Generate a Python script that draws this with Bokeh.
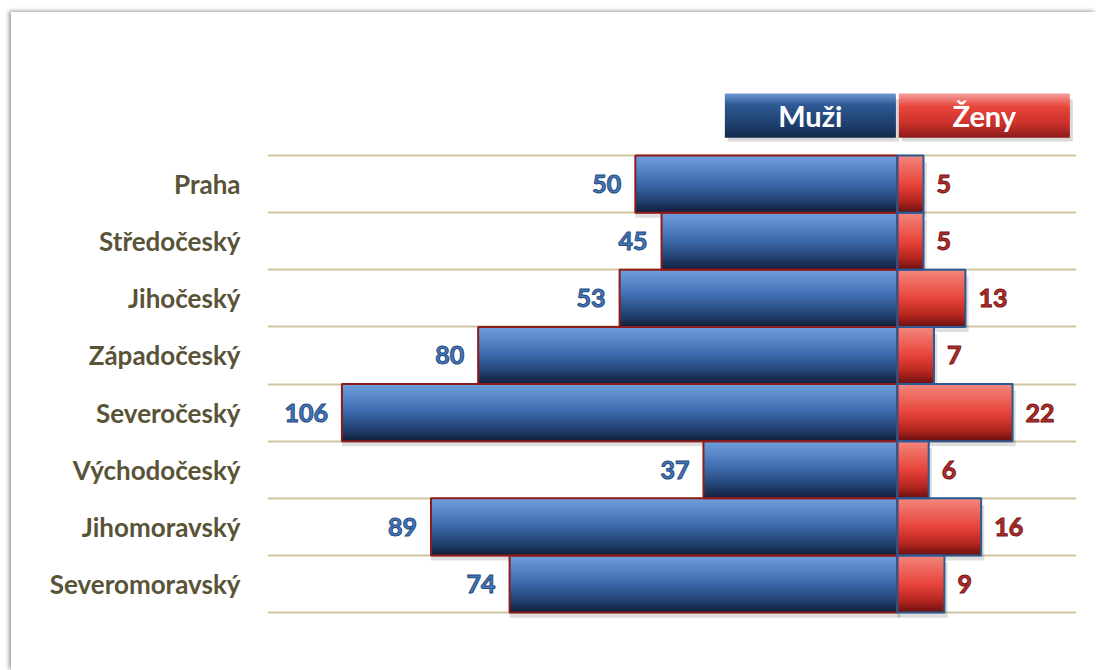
from bokeh.plotting import figure
from bokeh.models import Range1d, FixedTicker, ColumnDataSource
from bokeh.core.properties import value
from bokeh.embed import file_html
from bokeh.resources import INLINE

# ---------------- data ----------------
regions = ["Praha", "Středočeský", "Jihočeský", "Západočeský",
           "Severočeský", "Východočeský", "Jihomoravský", "Severomoravský"]
muzi = [50, 45, 53, 80, 106, 37, 89, 74]
zeny = [5, 5, 13, 7, 22, 6, 16, 9]
series_names = ["Muži", "Ženy"]

# ---------------- style ----------------
FONT = "Lato"
BLUE_GRAD = [(0.0, "#6f9fdc"), (0.45, "#3f6fb2"), (0.8, "#213f6f"), (1.0, "#101f3a")]
RED_GRAD = [(0.0, "#f3877e"), (0.5, "#e8443a"), (0.8, "#b4261f"), (1.0, "#6a1010")]
HEAD_BLUE = [(0.0, "#6f9ad6"), (0.25, "#2f5a94"), (0.7, "#1f3f6e"), (1.0, "#142a4c")]
HEAD_RED = [(0.0, "#f4a0a0"), (0.3, "#e8453a"), (0.7, "#c8302a"), (1.0, "#8a1a1a")]
N_STRIPS = 24


def hex2rgb(h):
    h = h.lstrip("#")
    return tuple(int(h[i:i + 2], 16) for i in (0, 2, 4))


def grad(stops, t):
    for (p0, c0), (p1, c1) in zip(stops[:-1], stops[1:]):
        if p0 <= t <= p1:
            f = (t - p0) / (p1 - p0) if p1 > p0 else 0
            a, b = hex2rgb(c0), hex2rgb(c1)
            return "#%02x%02x%02x" % tuple(int(round(a[j] + (b[j] - a[j]) * f)) for j in range(3))
    return stops[-1][1]


def strips(lefts, rights, tops, bottoms, stops):
    d = dict(left=[], right=[], top=[], bottom=[], color=[])
    for l, r, t, b in zip(lefts, rights, tops, bottoms):
        h = (b - t) / N_STRIPS
        for k in range(N_STRIPS):
            d["left"].append(l)
            d["right"].append(r)
            d["top"].append(t + k * h)
            d["bottom"].append(min(b, t + (k + 2) * h))
            d["color"].append(grad(stops, (k + 0.5) / N_STRIPS))
    return ColumnDataSource(d)


rows = list(range(len(regions)))
row_top = [i - 0.5 for i in rows]
row_bot = [i + 0.5 for i in rows]
men_left = [-v for v in muzi]
zeros = [0] * len(rows)

p = figure(width=1085, height=658, output_backend="svg", toolbar_location=None,
           x_range=Range1d(-120.2, 34.2), y_range=Range1d(7.99, -1.813),
           min_border_left=256, min_border_right=20, min_border_top=68, min_border_bottom=30)
p.margin = (12, 0, 0, 11)
p.styles = {"box-shadow": "-2px -1px 4px rgba(0,0,0,0.4)"}
p.outline_line_color = None
p.background_fill_color = "white"
p.border_fill_color = "white"

# grid lines between rows
p.xgrid.visible = False
p.ygrid.ticker = FixedTicker(ticks=[i - 0.5 for i in range(len(regions) + 1)])
p.ygrid.grid_line_color = "#cdc6a0"
p.ygrid.grid_line_width = 2

# axes
p.xaxis.visible = False
p.yaxis.ticker = FixedTicker(ticks=rows)
p.yaxis.major_label_overrides = {i: r for i, r in zip(rows, regions)}
p.yaxis.axis_line_color = None
p.yaxis.major_tick_line_color = None
p.yaxis.minor_tick_line_color = None
p.yaxis.major_label_standoff = 21
p.yaxis.major_label_text_font = FONT
p.yaxis.major_label_text_font_style = "bold"
p.yaxis.major_label_text_font_size = "26px"
p.yaxis.major_label_text_color = "#595337"

# shadows
p.quad(left=men_left, right=[z + 0.6 for z in zeros], top=[t + 0.12 for t in row_top],
       bottom=[b + 0.09 for b in row_bot], fill_color="black", fill_alpha=0.13, line_color=None)
p.quad(left=zeros, right=[v + 0.6 for v in zeny], top=[t + 0.12 for t in row_top],
       bottom=[b + 0.09 for b in row_bot], fill_color="black", fill_alpha=0.13, line_color=None)

# bars with gradients
p.quad(source=strips(men_left, zeros, row_top, row_bot, BLUE_GRAD),
       left="left", right="right", top="top", bottom="bottom", fill_color="color", line_color=None)
p.quad(source=strips(zeros, zeny, row_top, row_bot, RED_GRAD),
       left="left", right="right", top="top", bottom="bottom", fill_color="color", line_color=None)
p.quad(left=men_left, right=zeros, top=row_top, bottom=row_bot,
       fill_color=None, line_color="#8e1b1b", line_width=2)
p.quad(left=zeros, right=zeny, top=row_top, bottom=row_bot,
       fill_color=None, line_color="#2c5a94", line_width=2)

# value labels
p.text(x=men_left, y=rows, text=[str(v) for v in muzi], x_offset=-14,
       text_align="right", text_baseline="middle", text_font=value(FONT),
       text_font_style="bold", text_font_size="25px", text_color="#4a78b6",
       text_outline_color="#1e4a82")
p.text(x=zeny, y=rows, text=[str(v) for v in zeny], x_offset=13,
       text_align="left", text_baseline="middle", text_font=value(FONT),
       text_font_style="bold", text_font_size="25px", text_color="#b0302c",
       text_outline_color="#7a1515")

# header boxes (legend)
HEAD_W = 32.6
HEAD_GAP = 0.3
HEAD_TOP, HEAD_BOT = -1.585, -0.815
hx_left = [-HEAD_W - HEAD_GAP, HEAD_GAP]
hx_right = [-HEAD_GAP, HEAD_W + HEAD_GAP]
p.quad(left=[l + 0.6 for l in hx_left], right=[r + 0.6 for r in hx_right],
       top=[HEAD_TOP + 0.1] * 2, bottom=[HEAD_BOT + 0.07] * 2,
       fill_color="black", fill_alpha=0.15, line_color=None)
p.quad(source=strips(hx_left[:1], hx_right[:1], [HEAD_TOP], [HEAD_BOT], HEAD_BLUE),
       left="left", right="right", top="top", bottom="bottom", fill_color="color", line_color=None)
p.quad(source=strips(hx_left[1:], hx_right[1:], [HEAD_TOP], [HEAD_BOT], HEAD_RED),
       left="left", right="right", top="top", bottom="bottom", fill_color="color", line_color=None)
p.text(x=[(l + r) / 2 for l, r in zip(hx_left, hx_right)], y=[(HEAD_TOP + HEAD_BOT) / 2] * 2,
       text=series_names, text_align="center", text_baseline="middle",
       text_font=value(FONT), text_font_style="bold", text_font_size="29px", text_color="white")

open("out.html", "w").write(file_html(p, INLINE))
